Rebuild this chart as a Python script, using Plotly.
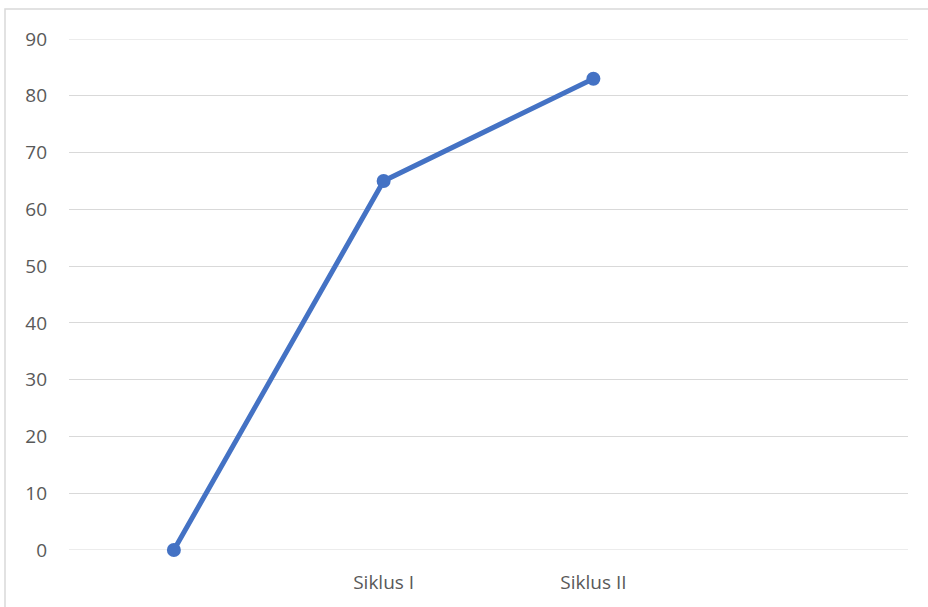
import plotly.graph_objects as go

categories = [" ", "Siklus I", "Siklus II", "  "]
point_categories = [" ", "Siklus I", "Siklus II"]
values = [0, 65, 83]
y_ticks = [0, 10, 20, 30, 40, 50, 60, 70, 80, 90]

L, R, T, B = 69, 20, 39, 55
W, H = 928, 607
pw, ph = W - L - R, H - T - B

fig = go.Figure()
fig.add_trace(go.Scatter(
    x=point_categories, y=values, mode="lines+markers",
    line=dict(color="#4472C4", width=5),
    marker=dict(color="#4472C4", size=14),
    showlegend=False, cliponaxis=False,
))

fig.update_layout(
    width=W, height=H,
    margin=dict(l=L, r=R, t=T, b=B),
    paper_bgcolor="white", plot_bgcolor="white",
    font=dict(family="Open Sans", size=19, color="#595959"),
    xaxis=dict(
        type="category", categoryorder="array", categoryarray=categories,
        range=[-0.5, 3.5], showgrid=False, zeroline=False, showline=False,
        ticks="", ticklabelstandoff=19,
    ),
    yaxis=dict(
        range=[min(y_ticks), max(y_ticks)], tickvals=y_ticks, showgrid=True,
        gridcolor="#D9D9D9", gridwidth=1, zeroline=False, showline=False,
        ticks="", ticklabelstandoff=21,
    ),
    shapes=[dict(
        type="rect", xref="paper", yref="paper",
        x0=(5 - L) / pw, x1=(W + 5 - L) / pw,
        y0=-(B + 5) / ph, y1=(ph + T - 9) / ph,
        line=dict(color="#D9D9D9", width=1.5), fillcolor="rgba(0,0,0,0)",
        layer="below",
    )],
)

# edge gridlines (plotly omits gridlines on the plot-area edges)
for yv in (min(y_ticks), max(y_ticks)):
    fig.add_shape(type="line", xref="paper", yref="y", x0=0, x1=1, y0=yv, y1=yv,
                  line=dict(color="#D9D9D9", width=1), layer="below")

fig.write_html("out.html", config={"displayModeBar": False},
               post_script="document.body.style.margin='0';")
